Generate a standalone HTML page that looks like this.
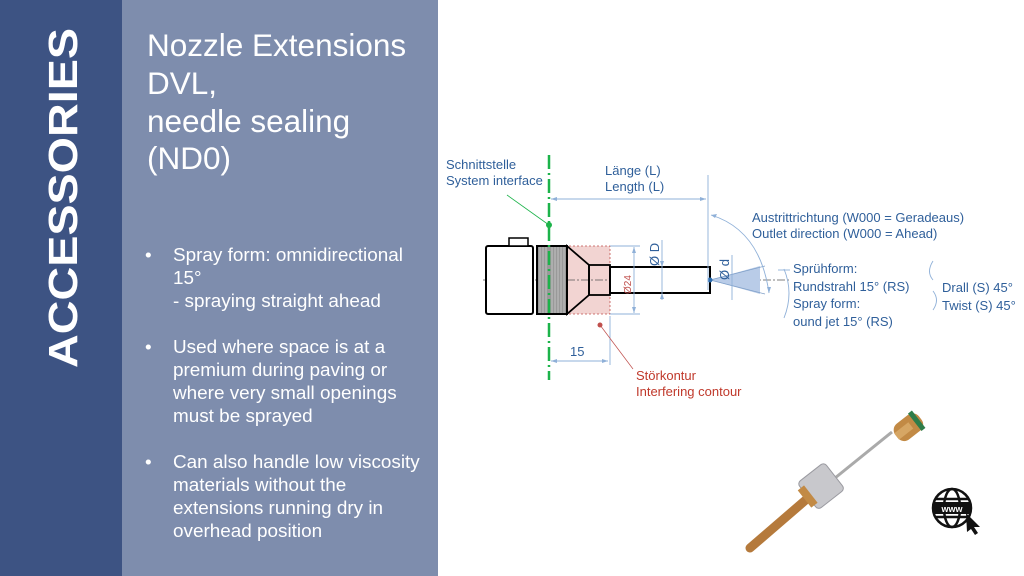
<!DOCTYPE html>
<html><head><meta charset="utf-8"><style>
html,body{margin:0;padding:0;width:1024px;height:576px;overflow:hidden;background:#fff}
svg{display:block}
text{font-family:"Liberation Sans",sans-serif}
</style></head><body>
<svg width="1024" height="576" viewBox="0 0 1024 576" xmlns="http://www.w3.org/2000/svg">
<rect x="0" y="0" width="122" height="576" fill="#3d5383"/>
<rect x="122" y="0" width="316" height="576" fill="#7e8dad"/>
<text transform="translate(77,368) rotate(-90)" font-size="41" font-weight="bold" fill="#fff" textLength="340" lengthAdjust="spacingAndGlyphs">ACCESSORIES</text>
<g fill="#fff" font-size="31.5">
<text x="147" y="56">Nozzle Extensions</text>
<text x="147" y="94">DVL,</text>
<text x="147" y="132">needle sealing</text>
<text x="147" y="169">(ND0)</text>
</g>
<g fill="#fff" font-size="18.9">
<text x="145" y="261">•</text>
<text x="173" y="261">Spray form: omnidirectional</text>
<text x="173" y="284">15°</text>
<text x="173" y="307">- spraying straight ahead</text>
<text x="145" y="353">•</text>
<text x="173" y="353">Used where space is at a</text>
<text x="173" y="376">premium during paving or</text>
<text x="173" y="399">where very small openings</text>
<text x="173" y="422">must be sprayed</text>
<text x="145" y="468">•</text>
<text x="173" y="468">Can also handle low viscosity</text>
<text x="173" y="491">materials without the</text>
<text x="173" y="514">extensions running dry in</text>
<text x="173" y="537">overhead position</text>
</g>

<g fill="none">
<rect x="549" y="246" width="61" height="68" fill="#f2d4d2" stroke="#c0504d" stroke-width="0.8" stroke-dasharray="2,2"/>
<line x1="483" y1="280" x2="790" y2="280" stroke="#555" stroke-width="0.7" stroke-dasharray="8,2,2,2"/>
<rect x="486" y="246" width="47" height="68" fill="#fff" stroke="#000" stroke-width="2" rx="2"/>
<rect x="509" y="238" width="19" height="8" fill="#fff" stroke="#000" stroke-width="1.5"/>
<rect x="537" y="246" width="30" height="68" fill="#999" stroke="#000" stroke-width="2"/>
<g stroke="#ddd" stroke-width="0.6">
<line x1="540" y1="247" x2="540" y2="313"/><line x1="543" y1="247" x2="543" y2="313"/><line x1="546" y1="247" x2="546" y2="313"/><line x1="552" y1="247" x2="552" y2="313"/><line x1="555" y1="247" x2="555" y2="313"/><line x1="558" y1="247" x2="558" y2="313"/><line x1="561" y1="247" x2="561" y2="313"/><line x1="564" y1="247" x2="564" y2="313"/>
</g>
<path d="M567 246 L589 265 L589 295 L567 314 Z" fill="none" stroke="#000" stroke-width="1.8"/>
<rect x="589" y="265" width="21" height="30" stroke="#000" stroke-width="1.8"/>
<rect x="610" y="267" width="100" height="26" fill="#fff" stroke="#000" stroke-width="2"/>
<path d="M710 280 L760 266 L760 294 Z" fill="#b9cce8"/>
<line x1="710" y1="280" x2="765" y2="266" stroke="#7f9fc8" stroke-width="0.7"/>
<line x1="710" y1="280" x2="765" y2="294" stroke="#7f9fc8" stroke-width="0.7"/>
<circle cx="710" cy="280" r="2.5" fill="#2f6fb0"/>
<line x1="549" y1="155" x2="549" y2="380" stroke="#1cb34a" stroke-width="2.5" stroke-dasharray="14,4,2,4"/>
<line x1="507" y1="195" x2="549" y2="225" stroke="#1cb34a" stroke-width="0.8"/>
<circle cx="549" cy="225" r="3" fill="#1cb34a"/>
<g stroke="#8fb0d8" stroke-width="0.9">
<line x1="708" y1="175" x2="708" y2="290"/>
<line x1="551" y1="199" x2="706" y2="199"/>
<line x1="610" y1="246" x2="640" y2="246"/><line x1="610" y1="314" x2="640" y2="314"/>
<line x1="634" y1="247" x2="634" y2="313"/>
<line x1="662" y1="240" x2="662" y2="300"/>
<line x1="732" y1="255" x2="732" y2="300"/>
<line x1="610" y1="316" x2="610" y2="365"/>
<line x1="551" y1="361" x2="608" y2="361"/>
<path d="M711 215 Q760 230 769 293"/>
<path d="M784 269 Q794 293 784 318"/>
<path d="M933 261 Q926 272 933 280 M933 291 Q940 300 933 310"/>
<line x1="778" y1="270" x2="790" y2="270"/>
</g>
<g fill="#8fb0d8">
<path d="M551 199 l6 -2 v4 z"/><path d="M706 199 l-6 -2 v4 z"/>
<path d="M634 247 l-2 6 h4 z"/><path d="M634 313 l-2 -6 h4 z"/>
<path d="M551 361 l6 -2 v4 z"/><path d="M608 361 l-6 -2 v4 z"/>
<path d="M662 267 l-2 -6 h4 z"/><path d="M662 293 l-2 6 h4 z"/>
<path d="M711 215 l6 -1 l-2 4 z"/><path d="M769 293 l-2 -6 h4 z"/>
</g>
<line x1="600" y1="325" x2="633" y2="369" stroke="#c0504d" stroke-width="0.7"/>
<circle cx="600" cy="325" r="2.5" fill="#c0504d"/>
</g>
<g font-size="13" fill="#2f5f9a">
<text x="446" y="169">Schnittstelle</text>
<text x="446" y="185">System interface</text>
<text x="605" y="175">Länge (L)</text>
<text x="605" y="191">Length (L)</text>
<text x="752" y="222">Austrittrichtung (W000 = Geradeaus)</text>
<text x="752" y="238">Outlet direction (W000 = Ahead)</text>
<text x="793" y="273">Sprühform:</text>
<text x="793" y="291">Rundstrahl 15° (RS)</text>
<text x="793" y="308">Spray form:</text>
<text x="793" y="326">ound jet 15° (RS)</text>
<text x="942" y="292">Drall (S) 45°</text>
<text x="942" y="310">Twist (S) 45°</text>
<text x="570" y="356">15</text>
<text transform="translate(659,266) rotate(-90)">Ø D</text>
<text transform="translate(631,294) rotate(-90)" font-size="10" fill="#c0504d">Ø24</text>
<text transform="translate(729,280) rotate(-90)">Ø d</text>
</g>
<g font-size="13" fill="#c0392b">
<text x="636" y="380">Störkontur</text>
<text x="636" y="396">Interfering contour</text>
</g>

<line x1="835" y1="478" x2="892" y2="432" stroke="#aaa" stroke-width="3"/>
<g transform="translate(910,426) rotate(-38)">
<rect x="-17" y="-10" width="30" height="20" rx="8" fill="#c28a45"/>
<rect x="6" y="-11" width="5" height="22" fill="#2e7d4a"/>
<rect x="-17" y="-4" width="18" height="8" fill="#d6a664"/>
</g>
<line x1="750" y1="548" x2="808" y2="498" stroke="#b57a3c" stroke-width="9" stroke-linecap="round"/>
<g transform="translate(825,483) rotate(-38)">
<rect x="-22" y="-17" width="34" height="34" rx="4" fill="#c8c8cc"/>
<rect x="-22" y="-17" width="34" height="34" rx="4" fill="none" stroke="#9a9aa0" stroke-width="1"/>
<rect x="-26" y="-11" width="8" height="22" fill="#c28a45"/>
</g>
<g stroke="#111" stroke-width="2.5" fill="none">
<circle cx="952" cy="508" r="19"/>
<ellipse cx="952" cy="508" rx="8" ry="19"/>
<line x1="935" y1="499" x2="969" y2="499"/><line x1="935" y1="517" x2="969" y2="517"/>
</g>
<rect x="934" y="502" width="36" height="12" fill="#111"/>
<text x="952" y="512" font-size="9" fill="#fff" text-anchor="middle" font-weight="bold">www</text>
<path d="M966 513 L980 527 L974 527 L978 533 L975 535 L971 529 L967 532 Z" fill="#111"/>
</svg>
</body></html>
